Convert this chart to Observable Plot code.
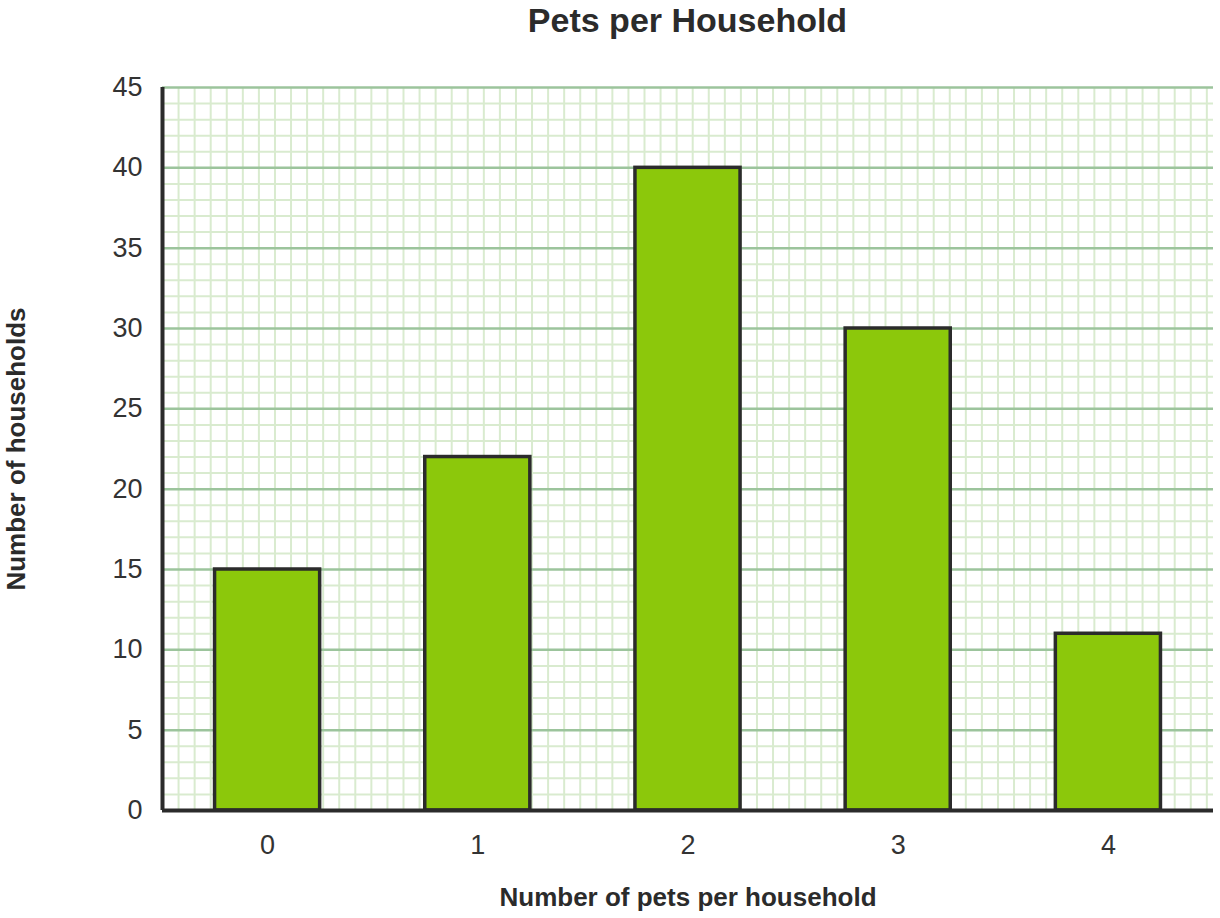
<!DOCTYPE html>
<html>
<head>
<meta charset="utf-8">
<script src="https://cdn.jsdelivr.net/npm/d3@7"></script>
<script src="https://cdn.jsdelivr.net/npm/@observablehq/plot@0.6"></script>
<style>
  body { margin: 0; background: #fff; font-family: "Liberation Sans", Arial, sans-serif; }
  #title { margin-left: 162px; width: 1051px; height: 40px; line-height: 40px; text-align: center;
           font-size: 34px; font-weight: bold; color: #2b2b2b; }
</style>
</head>
<body>
<div id="title">Pets per Household</div>
<div id="chart"></div>
<script>
const categories = [0, 1, 2, 3, 4];
const households = [15, 22, 40, 30, 11];
const yTicks = [0, 5, 10, 15, 20, 25, 30, 35, 40, 45];
const xLabel = "Number of pets per household";
const yLabel = "Number of households";

const data = categories.map((c, i) => ({pets: c, count: households[i]}));

const W = 1220, H = 878;
const mL = 162, mR = 7, mT = 47, mB = 108;
const plotW = W - mL - mR;
// square grid: one y unit in pixels, converted into x units
const pxPerY = (H - mT - mB) / 45;
const xUnit = pxPerY / (plotW / 5);
const vMinor = d3.range(-0.5, 4.5 + 1e-9, xUnit);
const hMinor = d3.range(0, 46, 1).filter(v => v % 5 !== 0);

const chart = Plot.plot({
  width: W, height: H,
  marginLeft: mL, marginRight: mR, marginTop: mT, marginBottom: mB,
  style: {fontFamily: "'Liberation Sans', Arial, sans-serif", background: "#fff"},
  x: {domain: [-0.5, 4.5]},
  y: {domain: [0, 45]},
  marks: [
    Plot.ruleX(vMinor, {stroke: "#d9ebcf", strokeWidth: 2}),
    Plot.ruleY(hMinor, {stroke: "#d9ebcf", strokeWidth: 2}),
    Plot.ruleY(yTicks.filter(v => v > 0), {stroke: "#9cc49c", strokeWidth: 2.5}),
    Plot.rectY(data, {x1: d => d.pets - 0.25, x2: d => d.pets + 0.25, y: "count",
      fill: "#8cc80b", stroke: "#2b2b2b", strokeWidth: 3.5}),
    Plot.ruleX([-0.5], {stroke: "#2b2b2b", strokeWidth: 4}),
    Plot.ruleY([0], {stroke: "#2b2b2b", strokeWidth: 4}),
    Plot.axisY({ticks: yTicks, tickSize: 0, tickPadding: 20, fontSize: 27, color: "#333", label: null}),
    Plot.axisX({ticks: categories, tickSize: 0, tickPadding: 24, fontSize: 27, color: "#333", label: null, tickFormat: d => String(d)}),
    Plot.text([xLabel], {frameAnchor: "bottom", lineAnchor: "middle", dy: 87, fontSize: 26, fontWeight: "bold", fill: "#2b2b2b"}),
    Plot.text([yLabel], {frameAnchor: "left", textAnchor: "middle", lineAnchor: "middle", dx: -146, rotate: -90, fontSize: 26, fontWeight: "bold", fill: "#2b2b2b"})
  ]
});
document.getElementById("chart").appendChild(chart);
</script>
</body>
</html>
